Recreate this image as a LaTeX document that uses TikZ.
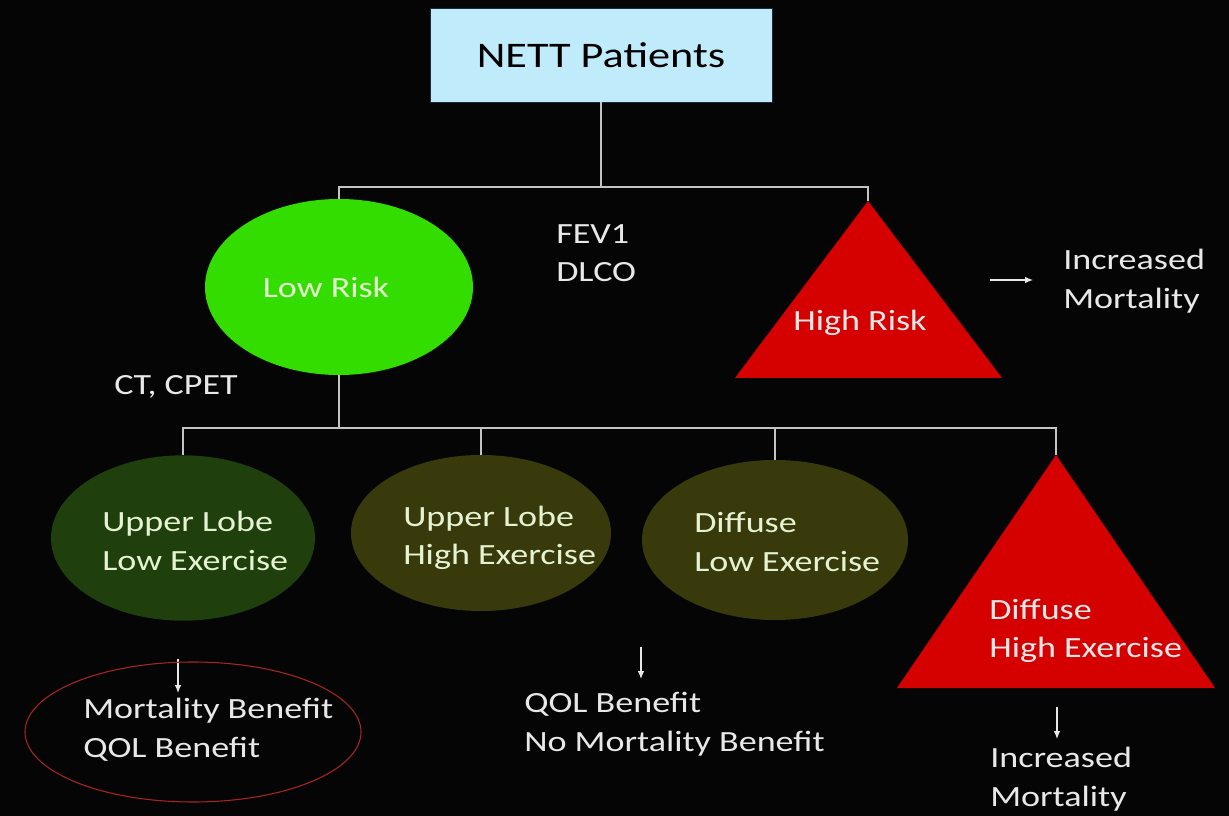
\documentclass[tikz,border=0pt]{standalone}
\usepackage{fontspec}
\setmainfont{Carlito}[FakeStretch=1.23]
\usetikzlibrary{shapes.geometric,arrows.meta}

\definecolor{boxblue}{HTML}{BFEBFA}
\definecolor{boxedge}{HTML}{1C2A3A}
\definecolor{lowgreen}{HTML}{33DD00}
\definecolor{leafgreen}{HTML}{1F3F0C}
\definecolor{leafolive}{HTML}{393A0B}
\definecolor{riskred}{HTML}{D50000}
\definecolor{linegray}{HTML}{C4C4C4}
\definecolor{txtwhite}{HTML}{E8E8E8}
\definecolor{leaftxt}{HTML}{E6F3D2}
\definecolor{ringred}{HTML}{A82424}

\begin{document}
\begin{tikzpicture}[x=0.75pt, y=-0.75pt,
    tree/.style={draw=linegray, line width=1.3pt},
    arr/.style={draw=txtwhite, line width=0.9pt, -{Latex[length=6pt,width=5pt]}},
    blob/.style={ellipse, inner sep=0pt},
    lbl/.style={anchor=west, inner sep=0pt, align=left, text=txtwhite,
        font=\fontsize{22}{29}\selectfont},
    leaflbl/.style={lbl, text=leaftxt}]
    % Background
    \fill[black!98] (0,0) rectangle (1229,816);

    % Root
    \node[draw=boxedge, fill=boxblue, minimum width=256.5pt, minimum height=70.5pt,
        inner sep=0pt, font=\fontsize{27}{32}\selectfont] (nett) at (601,55) {NETT Patients};

    % First split
    \node[blob, fill=lowgreen, minimum width=201pt, minimum height=132pt] (low) at (339,287) {};
    \node[leaflbl, anchor=center] (lowtxt) at (326,287) {Low Risk};
    \coordinate (hightop) at (868,201);
    \fill[riskred] (hightop) -- (735,378) -- (1002,378) -- cycle;
    \node[lbl, anchor=center] (hightxt) at (860,323) {High Risk};
    \node[lbl] (tests) at (556,253) {FEV1\\DLCO};
    \coordinate (highout) at (990,280);
    \coordinate (highin) at (1033,280);
    \draw[arr] (highout) -- (highin);
    \node[lbl] (highres) at (1063,281) {Increased\\Mortality};

    \coordinate (split1) at (601,187);
    \draw[tree] (nett) -- (split1);
    \draw[tree] (low.north) -- (low.north |- split1) -- (hightop |- split1) -- (hightop);

    % Second split
    \node[lbl] (ct) at (114,387) {CT, CPET};
    \node[blob, fill=leafgreen, minimum width=198pt, minimum height=124pt] (ulow) at (183,538) {};
    \node[blob, fill=leafolive, minimum width=195pt, minimum height=117pt] (uhigh) at (481,533) {};
    \node[blob, fill=leafolive, minimum width=199.5pt, minimum height=120pt] (dlow) at (775,540) {};
    \coordinate (dhightop) at (1056,455);
    \fill[riskred] (dhightop) -- (897,688) -- (1215,688) -- cycle;

    \node[leaflbl] (ulowtxt) at (102,541) {Upper Lobe\\Low Exercise};
    \node[leaflbl] (uhightxt) at (403,538) {Upper Lobe\\High Exercise};
    \node[leaflbl] (dlowtxt) at (694,542) {Diffuse\\Low Exercise};
    \node[lbl] (dhightxt) at (989,631) {Diffuse\\High Exercise};

    \coordinate (split2) at (339,428);
    \draw[tree] (low.south) -- (split2);
    \draw[tree] (ulow.north) -- (ulow.north |- split2) -- (dhightop |- split2) -- (dhightop);
    \draw[tree] (uhigh.north |- split2) -- (uhigh.north);
    \draw[tree] (dlow.north |- split2) -- (dlow.north);

    % Outcomes
    \coordinate (a1) at (178,659);
    \coordinate (b1) at (178,693);
    \draw[arr] (a1) -- (b1);
    \node[draw=ringred, line width=0.8pt, ellipse, minimum width=252pt, minimum height=105pt]
        (ring) at (193,732) {};
    \node[lbl] (ulowres) at (83,730) {Mortality Benefit\\QOL Benefit};

    \coordinate (a2) at (641,647);
    \coordinate (b2) at (641,679);
    \draw[arr] (a2) -- (b2);
    \node[lbl] (midres) at (524,724) {QOL Benefit\\No Mortality Benefit};

    \coordinate (a3) at (1057,707);
    \coordinate (b3) at (1057,739);
    \draw[arr] (a3) -- (b3);
    \node[lbl] (dhighres) at (990,779) {Increased\\Mortality};
\end{tikzpicture}
\end{document}
